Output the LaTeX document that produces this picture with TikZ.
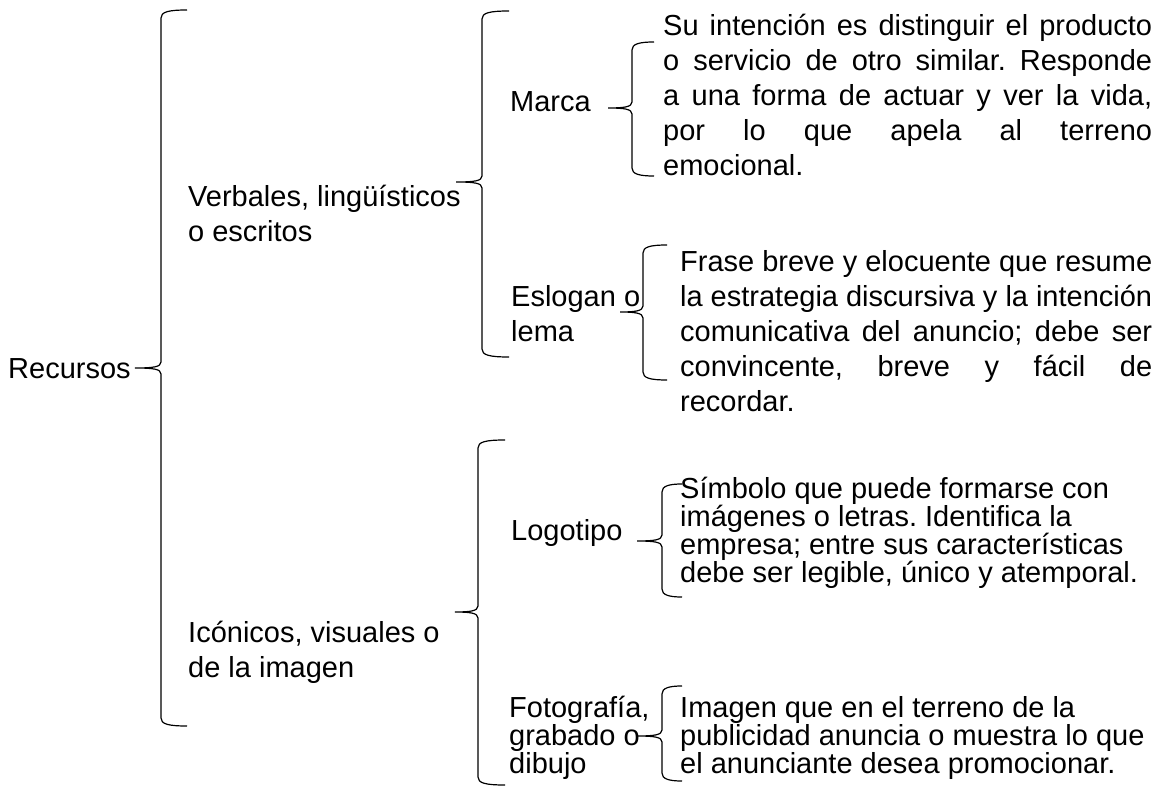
\documentclass[tikz,border=0pt]{standalone}
\usepackage{fontspec}
\setmainfont{Liberation Sans}
\frenchspacing
\newcommand\brc[6]{% x top mid bot tipx endx
 \draw[brace] (#6,#2-3) .. controls (#1+7,#2-3) and (#1,#2-1) .. (#1,#2+5) -- (#1,#3-6) .. controls (#1,#3-1) and (#1-8,#3) .. (#5,#3) .. controls (#1-8,#3) and (#1,#3+1) .. (#1,#3+6) -- (#1,#4-5) .. controls (#1,#4+1) and (#1+7,#4+3) .. (#6,#4+3);}
\newcommand\jl[2]{\makebox[#1][s]{#2}}
\newcommand\mlA[1]{\parbox[t]{500pt}{\fontsize{29}{35}\selectfont\raggedright #1}}
\newcommand\mlB[1]{\parbox[t]{500pt}{\fontsize{29}{28}\selectfont\raggedright #1}}
\begin{document}
\begin{tikzpicture}[x=1pt,y=-1pt,
  brace/.style={line width=1.2pt,black},
  lbl/.style={anchor=base west,inner sep=0pt,font=\fontsize{29}{35}\selectfont}]
\useasboundingbox (0,0) rectangle (1165,786);
% labels
\node[lbl] (rec) at (8,378) {Recursos};
\node[lbl] (verb) at (188,207) {\mlA{Verbales, lingüísticos\\o escritos}};
\node[lbl] (ico) at (188,642) {\mlA{Icónicos, visuales o\\de la imagen}};
\node[lbl] (marca) at (510,112) {Marca};
\node[lbl] (eslo) at (511,307) {\mlA{Eslogan o\\lema}};
\node[lbl] (logo) at (511,540) {Logotipo};
\node[lbl] (foto) at (509,717) {\mlB{Fotografía,\\grabado o\\dibujo}};
% descriptions
\node[lbl] (dmarca) at (663,36) {\parbox[t]{489pt}{\fontsize{29}{35}\selectfont
 \jl{489pt}{Su intención es distinguir el producto}\\
 \jl{489pt}{o servicio de otro similar. Responde}\\
 \jl{489pt}{a una forma de actuar y ver la vida,}\\
 \jl{489pt}{por lo que apela al terreno}\\
 emocional.}};
\node[lbl] (deslo) at (680,272) {\parbox[t]{472pt}{\fontsize{29}{35}\selectfont
 \jl{472pt}{Frase breve y elocuente que resume}\\
 \jl{472pt}{la estrategia discursiva y la intención}\\
 \jl{472pt}{comunicativa del anuncio; debe ser}\\
 \jl{472pt}{convincente, breve y fácil de}\\
 recordar.}};
\node[lbl] (dlogo) at (680,498) {\mlB{Símbolo que puede formarse con\\imágenes o letras. Identifica la\\empresa; entre sus características\\debe ser legible, único y atemporal.}};
\node[lbl] (dfoto) at (680,717) {\mlB{Imagen que en el terreno de la\\publicidad anuncia o muestra lo que\\el anunciante desea promocionar.}};
% braces
\brc{161}{13}{368}{723}{135}{187}
\brc{482}{14}{182}{354}{456}{509}
\brc{478}{443}{612}{782}{455}{505}
\brc{632}{45}{108}{173}{608}{654}
\brc{643}{248}{312}{377}{620}{667}
\brc{662}{487}{541}{594}{637}{682}
\brc{662}{689}{736}{778}{637}{682}
\end{tikzpicture}
\end{document}
